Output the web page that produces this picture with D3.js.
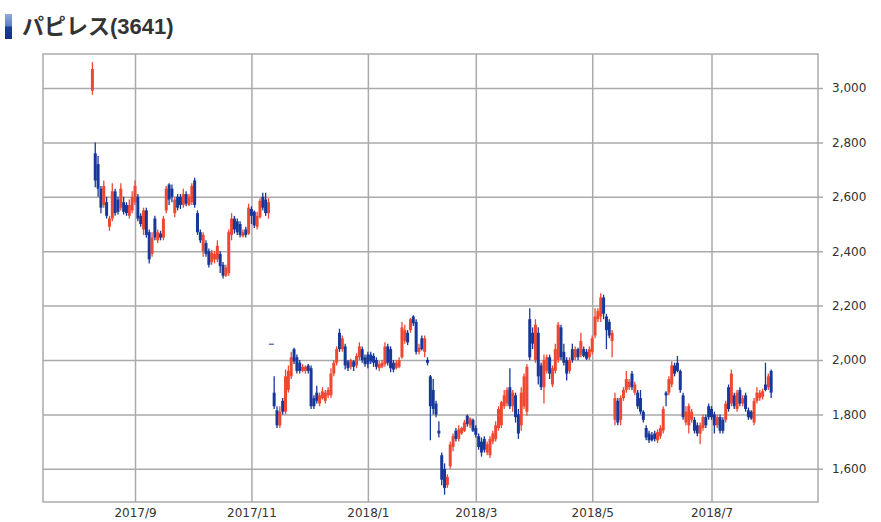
<!DOCTYPE html>
<html>
<head>
<meta charset="utf-8">
<script src="https://cdn.jsdelivr.net/npm/d3@7"></script>
<style>
  body { margin: 0; background: #fff; }
  svg text { font-family: "DejaVu Sans", sans-serif; }
</style>
</head>
<body>
<svg id="chart" width="881" height="522"></svg>
<script>
// Tokyo exchange holidays inside the charted range
const holidays = ["2017-08-11", "2017-09-18", "2017-10-09", "2017-11-03", "2017-11-23",
  "2018-01-01", "2018-01-02", "2018-01-03", "2018-01-08", "2018-02-12", "2018-03-21",
  "2018-04-30", "2018-05-03", "2018-05-04", "2018-07-16"];

// daily candles [open, high, low, close], one array per month
const aug2017 = [[2990,3095,2975,3070],[2760,2800,2635,2660],[2720,2750,2600,2630],[2630,2640,2540,2560],
  [2570,2660,2560,2640],[2580,2600,2520,2530],[2490,2530,2475,2520],[2520,2650,2510,2620],[2620,2630,2530,2540],
  [2590,2600,2535,2545],[2560,2650,2550,2630],[2580,2600,2535,2545],[2570,2580,2530,2540],[2530,2590,2520,2570],
  [2550,2620,2540,2600]];
const sep2017 = [[2580,2660,2570,2640],[2600,2610,2510,2520],[2530,2540,2490,2500],[2480,2560,2460,2550],
  [2550,2560,2450,2460],[2470,2480,2355,2370],[2390,2470,2380,2450],[2520,2530,2440,2450],[2440,2480,2430,2470],
  [2465,2475,2440,2450],[2450,2530,2440,2520],[2550,2640,2540,2630],[2645,2650,2570,2590],[2630,2645,2580,2600],
  [2540,2600,2525,2590],[2600,2610,2550,2560],[2600,2610,2555,2570],[2570,2630,2560,2610],[2610,2620,2565,2575],
  [2570,2610,2565,2600]];
const oct2017 = [[2580,2650,2570,2640],[2660,2670,2560,2570],[2540,2550,2460,2470],[2470,2480,2430,2440],
  [2400,2470,2380,2460],[2430,2440,2380,2390],[2400,2410,2340,2350],[2360,2405,2350,2395],[2370,2400,2355,2390],
  [2370,2440,2360,2420],[2390,2400,2320,2345],[2350,2360,2300,2310],[2310,2350,2305,2340],[2320,2480,2310,2470],
  [2460,2540,2440,2520],[2520,2530,2465,2480],[2510,2520,2460,2470],[2500,2510,2450,2460],[2455,2480,2450,2470],
  [2480,2490,2450,2460],[2465,2575,2460,2560]];
const nov2017 = [[2555,2565,2500,2530],[2545,2550,2485,2495],[2490,2545,2480,2530],[2525,2595,2520,2585],
  [2600,2615,2550,2560],[2590,2615,2530,2540],[2540,2595,2520,2580],[2060,2060,2060,2060],[1880,1940,1820,1830],
  [1815,1830,1750,1760],[1760,1830,1750,1810],[1850,1860,1800,1810],[1810,1965,1800,1940],[1890,1980,1880,1960],
  [1940,2030,1930,2010],[2040,2045,1985,1995],[2010,2020,1950,1960],[1990,2000,1950,1960],[1960,1985,1955,1975],
  [1960,1980,1950,1975]];
const dec2017 = [[1980,1985,1950,1960],[1970,1980,1820,1830],[1860,1870,1820,1830],[1880,1905,1840,1850],
  [1840,1880,1830,1870],[1860,1900,1855,1885],[1850,1890,1840,1880],[1870,1900,1860,1890],[1870,1970,1860,1950],
  [1950,2000,1940,1990],[1990,2050,1980,2040],[2100,2115,2030,2040],[2040,2090,2030,2080],[2050,2060,1965,1980],
  [1995,2000,1960,1970],[1975,2005,1965,2000],[1995,2000,1960,1975],[1980,2025,1970,2015],[2010,2065,2000,2050],
  [2040,2050,1990,2000],[2010,2020,1975,1985]];
const jan2018 = [[2020,2030,1970,1985],[2020,2030,1985,1995],[2015,2025,1975,1990],[2000,2010,1965,1975],
  [1970,1995,1960,1985],[1975,2000,1970,1990],[1985,2065,1975,2050],[2050,2060,1980,1990],[2040,2050,1955,1970],
  [1990,2000,1955,1965],[1970,2000,1965,1990],[1975,2010,1970,2000],[2010,2140,2005,2120],[2070,2130,2060,2110],
  [2100,2110,2055,2065],[2110,2155,2100,2150],[2160,2165,2125,2135],[2140,2150,2020,2030],[2030,2060,2020,2045]];
const feb2018 = [[2080,2090,2035,2040],[2030,2090,2010,2080],[2000,2010,1980,1990],[1940,1945,1705,1830],
  [1890,1930,1800,1820],[1840,1850,1790,1800],[1740,1775,1715,1730],[1650,1660,1540,1560],[1600,1620,1505,1530],
  [1540,1580,1530,1570],[1610,1700,1600,1690],[1680,1730,1665,1720],[1740,1750,1700,1710],[1710,1760,1700,1745],
  [1730,1755,1725,1750],[1740,1780,1735,1770],[1795,1800,1755,1765],[1760,1790,1750,1785],[1780,1785,1735,1740]];
const mar2018 = [[1750,1760,1715,1725],[1720,1730,1670,1680],[1700,1715,1645,1660],[1710,1720,1660,1670],
  [1660,1700,1650,1690],[1650,1720,1640,1710],[1700,1740,1690,1730],[1710,1775,1700,1760],[1750,1830,1740,1820],
  [1760,1850,1750,1845],[1830,1890,1820,1870],[1840,1900,1830,1890],[1900,1970,1820,1830],[1830,1890,1810,1880],
  [1870,1880,1770,1790],[1800,1820,1710,1730],[1760,1900,1740,1880],[1830,1950,1820,1940],[1810,1985,1795,1975],
  [2150,2190,2000,2010],[2100,2120,2040,2060]];
const apr2018 = [[2000,2150,1990,2130],[2100,2120,1910,1940],[1980,1990,1890,1900],[1900,2020,1840,2000],
  [1960,2020,1950,2010],[2010,2020,1930,1950],[1910,1980,1900,1970],[1960,2060,1950,2040],[2000,2140,1990,2130],
  [2120,2130,2000,2010],[2030,2060,1980,1990],[2000,2010,1925,1950],[1960,2010,1950,2000],[2040,2060,1990,2000],
  [2010,2050,2000,2040],[2040,2045,2000,2010],[2020,2100,2010,2070],[2040,2050,2010,2015],[2030,2040,2000,2005],
  [2010,2050,2000,2040]];
const may2018 = [[2030,2090,2020,2080],[2090,2190,2080,2160],[2150,2190,2140,2180],[2160,2245,2140,2230],
  [2230,2240,2150,2170],[2160,2170,2040,2110],[2140,2150,2080,2090],[2070,2110,2010,2100],[1780,1880,1760,1860],
  [1850,1860,1760,1770],[1780,1870,1760,1860],[1860,1900,1850,1890],[1890,1960,1880,1930],[1900,1930,1890,1920],
  [1950,1960,1890,1900],[1880,1920,1870,1910],[1880,1890,1820,1830],[1860,1890,1800,1810],[1810,1815,1770,1780],
  [1750,1760,1705,1715],[1730,1740,1695,1705]];
const jun2018 = [[1725,1735,1700,1705],[1730,1740,1700,1710],[1705,1745,1695,1735],[1720,1760,1710,1750],
  [1740,1830,1730,1820],[1880,1885,1830,1870],[1880,1940,1870,1930],[1910,1995,1900,1980],[1980,1990,1940,1950],
  [1990,2015,1955,1960],[1960,1965,1880,1890],[1870,1880,1780,1790],[1770,1830,1760,1810],[1760,1840,1730,1830],
  [1780,1820,1770,1810],[1780,1790,1730,1740],[1760,1770,1720,1730],[1730,1770,1690,1760],[1750,1800,1740,1790],
  [1790,1800,1750,1760],[1830,1840,1780,1790]];
const jul2018 = [[1820,1830,1780,1790],[1800,1810,1730,1760],[1760,1800,1750,1790],[1790,1800,1730,1740],
  [1780,1790,1730,1740],[1780,1850,1770,1840],[1900,1910,1810,1820],[1840,1965,1830,1950],[1870,1880,1820,1830],
  [1820,1890,1810,1880],[1890,1900,1830,1840],[1840,1870,1830,1860],[1870,1880,1810,1820],[1815,1825,1780,1790],
  [1810,1815,1780,1785],[1770,1860,1760,1850],[1850,1900,1840,1880],[1860,1890,1850,1880],[1865,1895,1855,1885],
  [1910,1990,1885,1890],[1900,1950,1890,1940]];
const aug2018 = [[1960,1965,1860,1880]];

const priceTicks = [1600, 1800, 2000, 2200, 2400, 2600, 2800, 3000];
const monthTicks = ["2017/9", "2017/11", "2018/1", "2018/3", "2018/5", "2018/7"];

const candles = [].concat(aug2017, sep2017, oct2017, nov2017, dec2017, jan2018,
  feb2018, mar2018, apr2018, may2018, jun2018, jul2018, aug2018);

// trading days: weekdays that are not holidays
const fmt = d3.timeFormat("%Y-%m-%d");
const days = d3.timeDay.range(new Date(2017, 7, 10), new Date(2018, 7, 2))
  .filter(d => d.getDay() !== 0 && d.getDay() !== 6 && !holidays.includes(fmt(d)));

const data = candles.map((c, i) => ({
  date: days[i], i, open: c[0], high: c[1], low: c[2], close: c[3]
}));

const plot = { left: 43, right: 818, top: 54, bottom: 502 };

const svg = d3.select("#chart");

// x is the trading-day index, so weekends take no room
const x = d3.scaleLinear().domain([-17.4, 255.5]).range([plot.left, plot.right]);
const y = d3.scaleLinear().domain([1478, 3125]).range([plot.bottom, plot.top]);

const tickIndex = monthTicks.map(label => {
  const [yr, mo] = label.split("/").map(Number);
  return days.findIndex(d => d.getFullYear() === yr && d.getMonth() === mo - 1);
});

// title
const grad = svg.append("defs").append("linearGradient")
  .attr("id", "icon").attr("x1", 0).attr("y1", 0).attr("x2", 0).attr("y2", 1);
grad.append("stop").attr("offset", "0%").attr("stop-color", "#93abdf");
grad.append("stop").attr("offset", "48%").attr("stop-color", "#5d7cc6");
grad.append("stop").attr("offset", "52%").attr("stop-color", "#1c3c9e");
grad.append("stop").attr("offset", "100%").attr("stop-color", "#132f8c");
svg.append("rect").attr("x", 5).attr("y", 14).attr("width", 7).attr("height", 25)
  .attr("fill", "url(#icon)");
svg.append("text").attr("x", 22).attr("y", 34)
  .style("font-family", "'Liberation Sans', 'Noto Sans CJK JP', sans-serif")
  .style("font-size", "22px").style("font-weight", "bold").attr("fill", "#333")
  .text("パピレス(3641)");

// axes with grid
const yAxis = svg.append("g").attr("transform", `translate(${plot.right + 5},0)`)
  .call(d3.axisRight(y).tickValues(priceTicks).tickSize(-(plot.right + 5 - plot.left))
    .tickPadding(9).tickFormat(d3.format(",")));

const xAxis = svg.append("g").attr("transform", `translate(0,${plot.bottom})`)
  .call(d3.axisBottom(x).tickValues(tickIndex).tickSize(-(plot.bottom - plot.top))
    .tickPadding(6).tickFormat((d, k) => monthTicks[k]));

[yAxis, xAxis].forEach(ax => {
  ax.select(".domain").remove();
  ax.selectAll(".tick line").attr("stroke", "#aaa").attr("stroke-width", 1.5);
  ax.selectAll(".tick text").attr("fill", "#333").style("font-size", "12px")
    .style("font-family", "'DejaVu Sans', sans-serif");
});

svg.append("rect").attr("x", plot.left).attr("y", plot.top)
  .attr("width", plot.right - plot.left).attr("height", plot.bottom - plot.top)
  .attr("fill", "none").attr("stroke", "#aaa").attr("stroke-width", 1.5);

// candles: red when the close is above the open
const up = "#f04830", down = "#17379a";
const bodyW = 3;
const g = svg.append("g");
data.forEach(d => {
  const col = d.close > d.open ? up : down;
  const cx = x(d.i);
  g.append("line")
    .attr("x1", cx).attr("x2", cx)
    .attr("y1", y(d.high)).attr("y2", y(d.low))
    .attr("stroke", col).attr("stroke-width", 1.3);
  const yt = y(Math.max(d.open, d.close));
  const h = Math.max(1, Math.abs(y(d.open) - y(d.close)));
  g.append("rect")
    .attr("x", cx - bodyW / 2).attr("y", yt)
    .attr("width", d.open === d.close ? bodyW + 2 : bodyW).attr("height", h)
    .attr("transform", d.open === d.close ? "translate(-1,0)" : null)
    .attr("fill", col);
});
</script>
</body>
</html>
